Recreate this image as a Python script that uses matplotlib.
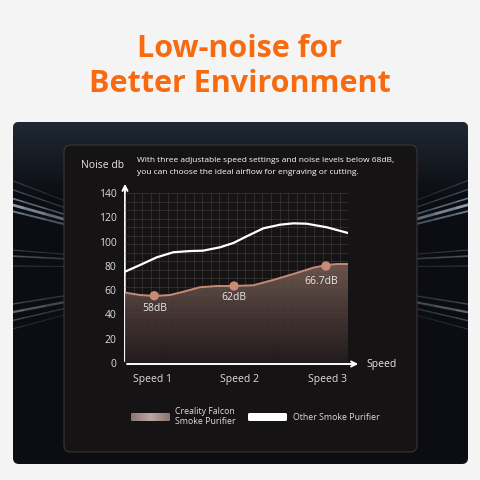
import matplotlib.pyplot as plt
import numpy as np
from matplotlib.patches import FancyBboxPatch, Polygon
from matplotlib.colors import LinearSegmentedColormap

plt.rcParams['font.family'] = ['Open Sans', 'DejaVu Sans']

# ---- data ----
speed_labels = ['Speed 1', 'Speed 2', 'Speed 3']
speed_pos = [1, 2, 3]
y_ticks = [0, 20, 40, 60, 80, 100, 120, 140]

other_x = [0.693, 0.864, 1.053, 1.242, 1.432, 1.58, 1.773, 1.924, 2.076,
           2.265, 2.455, 2.606, 2.758, 2.985, 3.231]
other_db = [75.2, 80.7, 87.0, 91.2, 92.2, 92.5, 95.3, 98.8, 104.3,
            110.9, 113.9, 115.0, 114.7, 111.8, 107.0]

falcon_x = [0.693, 0.864, 1.034, 1.205, 1.356, 1.545, 1.735, 1.924, 2.151,
            2.378, 2.606, 2.833, 2.985, 3.099, 3.231]
falcon_db = [58.0, 56.0, 55.2, 56.0, 58.7, 62.4, 63.4, 63.4, 64.0,
             68.4, 73.3, 78.5, 80.7, 81.5, 81.5]

dot_x = [1.026, 1.932, 2.977]
dot_db = [55.4, 63.4, 79.9]
dot_labels = ['58dB', '62dB', '66.7dB']
label_db = [45.0, 54.0, 67.5]
label_x = [1.034, 1.932, 2.92]

orange = '#f86a10'
copper = '#c58a76'

fig = plt.figure(figsize=(4.8, 4.8), dpi=100)
fig.patch.set_facecolor('#f4f4f4')

# background / decoration axes in pixel coordinates
bg = fig.add_axes([0, 0, 1, 1])
bg.set_xlim(0, 480)
bg.set_ylim(480, 0)
bg.axis('off')

bg.text(240, 49, 'Low-noise for', color=orange, fontsize=22, fontweight='bold',
        ha='center', va='center')
bg.text(240, 84, 'Better Environment', color=orange, fontsize=22, fontweight='bold',
        ha='center', va='center')

outer = FancyBboxPatch((13, 122), 455, 342, boxstyle='round,pad=0,rounding_size=6',
                       fc='#0b0d12', ec='none', zorder=1)
bg.add_patch(outer)

# top glow of the outer panel
grad = np.linspace(1, 0, 100).reshape(-1, 1)
im = bg.imshow(grad, extent=[13, 468, 200, 122], aspect='auto', zorder=1.5, alpha=0.8,
               cmap=LinearSegmentedColormap.from_list('g', ['#0b0d12', '#26303c']))
im.set_clip_path(outer)

# light streaks fanning out from the centre
cx, cy = 240, 268
for side in (-1, 1):
    for ang, a, lw in [(14, 0.6, 1.4), (15.5, 0.8, 2.0), (17, 0.6, 1.2), (19, 0.35, 1.0),
                       (21, 0.25, 0.8), (3, 0.4, 1.2), (4.5, 0.3, 0.8), (0.5, 0.25, 0.8),
                       (-9, 0.35, 1.0), (-11, 0.5, 1.6), (-13, 0.35, 1.0), (-15, 0.2, 0.8)]:
        t = np.radians(ang)
        for k in range(6):
            f0, f1 = 0.45 + k * 0.09, 0.45 + (k + 1) * 0.09
            ln, = bg.plot([cx + side * 240 * f0, cx + side * 240 * f1],
                          [cy - np.tan(t) * 240 * f0, cy - np.tan(t) * 240 * f1],
                          color='#a9bdd0', alpha=a * (k + 1) / 6, lw=lw, zorder=2,
                          solid_capstyle='butt')
            ln.set_clip_path(outer)

inner = FancyBboxPatch((64, 145), 353, 307, boxstyle='round,pad=0,rounding_size=7',
                       fc='#161314', ec='#3a3637', lw=0.8, zorder=3)
bg.add_patch(inner)

bg.text(103, 166, 'Noise db', color='#e6e6e6', fontsize=7.5, ha='center', va='center', zorder=5)
bg.text(137, 161, 'With three adjustable speed settings and noise levels below 68dB,',
        color='white', fontsize=6, ha='left', va='center', zorder=5)
bg.text(137, 172, 'you can choose the ideal airflow for engraving or cutting.',
        color='white', fontsize=6, ha='left', va='center', zorder=5)

# axis arrows
bg.annotate('', xy=(125, 181), xytext=(125, 364),
            arrowprops=dict(arrowstyle='->', color='white', lw=1.4, mutation_scale=9), zorder=6)
bg.annotate('', xy=(361, 364), xytext=(124.3, 364),
            arrowprops=dict(arrowstyle='->', color='white', lw=1.4, mutation_scale=9), zorder=6)
bg.text(366, 365, 'Speed', color='#e6e6e6', fontsize=7.5, ha='left', va='center', zorder=6)

# legend
leg1 = FancyBboxPatch((131, 413), 39, 8, boxstyle='round,pad=0,rounding_size=1.5',
                      fc='#9a847d', ec='none', zorder=5)
bg.add_patch(leg1)
lg = np.linspace(0, 1, 50).reshape(1, -1)
lim = bg.imshow(lg, extent=[131, 170, 421, 413], aspect='auto', zorder=5.5,
                cmap=LinearSegmentedColormap.from_list('l', ['#8d766f', '#b9a8a2', '#8d766f']))
lim.set_clip_path(leg1)
bg.text(175, 412, 'Creality Falcon', color='#dddddd', fontsize=6.3, ha='left', va='center', zorder=5)
bg.text(175, 422, 'Smoke Purifier', color='#dddddd', fontsize=6.3, ha='left', va='center', zorder=5)
bg.add_patch(FancyBboxPatch((248, 413), 39, 8, boxstyle='round,pad=0,rounding_size=1.5',
                            fc='white', ec='none', zorder=5))
bg.text(293, 417, 'Other Smoke Purifier', color='#dddddd', fontsize=6.3, ha='left', va='center', zorder=5)

# ---- chart axes ----
ax = fig.add_axes([125 / 480, 1 - 363 / 480, 223.3 / 480, 170 / 480])
ax.set_facecolor('none')
ax.set_xlim(falcon_x[0], falcon_x[-1])
ax.set_ylim(0, 140)
for s in ax.spines.values():
    s.set_visible(False)

# grid
for gx in np.linspace(falcon_x[0], falcon_x[-1], 27):
    ax.axvline(gx, color='#5a5555', lw=0.5, alpha=0.5, zorder=1)
for gy in np.arange(0, 141, 7):
    ax.axhline(gy, color='#5a5555', lw=0.5, alpha=0.5, zorder=1)

# gradient area under the Falcon curve
poly = Polygon(list(zip(falcon_x, falcon_db)) + [(falcon_x[-1], 0), (falcon_x[0], 0)],
               closed=True, fc='none', ec='none')
ax.add_patch(poly)
fill_grad = np.linspace(0, 1, 200).reshape(-1, 1)
fim = ax.imshow(fill_grad, extent=[falcon_x[0], falcon_x[-1], 0, 85], origin='lower',
                aspect='auto', zorder=2, alpha=0.9,
                cmap=LinearSegmentedColormap.from_list('f', ['#231d1d', '#4a3b38', '#7a5f56']))
fim.set_clip_path(poly)

ax.plot(falcon_x, falcon_db, color=copper, lw=1.4, zorder=3, solid_capstyle='round')
ax.plot(other_x, other_db, color='white', lw=1.6, zorder=3, solid_capstyle='round')
ax.scatter(dot_x, dot_db, s=45, color='#c98a76', zorder=4, edgecolors='none')
for lx, ly, t in zip(label_x, label_db, dot_labels):
    ax.text(lx, ly, t, color='#e8e8e8', fontsize=7.5, ha='center', va='center', zorder=5)

ax.set_yticks(y_ticks)
ax.set_yticklabels([str(v) for v in y_ticks], color='#dcdcdc', fontsize=7.5)
ax.set_xticks(speed_pos)
ax.set_xticklabels(speed_labels, color='#dcdcdc', fontsize=7.5)
ax.tick_params(length=0, pad=6)
ax.tick_params(axis='x', pad=8)

fig.savefig('out.png', dpi=100, facecolor=fig.get_facecolor())
